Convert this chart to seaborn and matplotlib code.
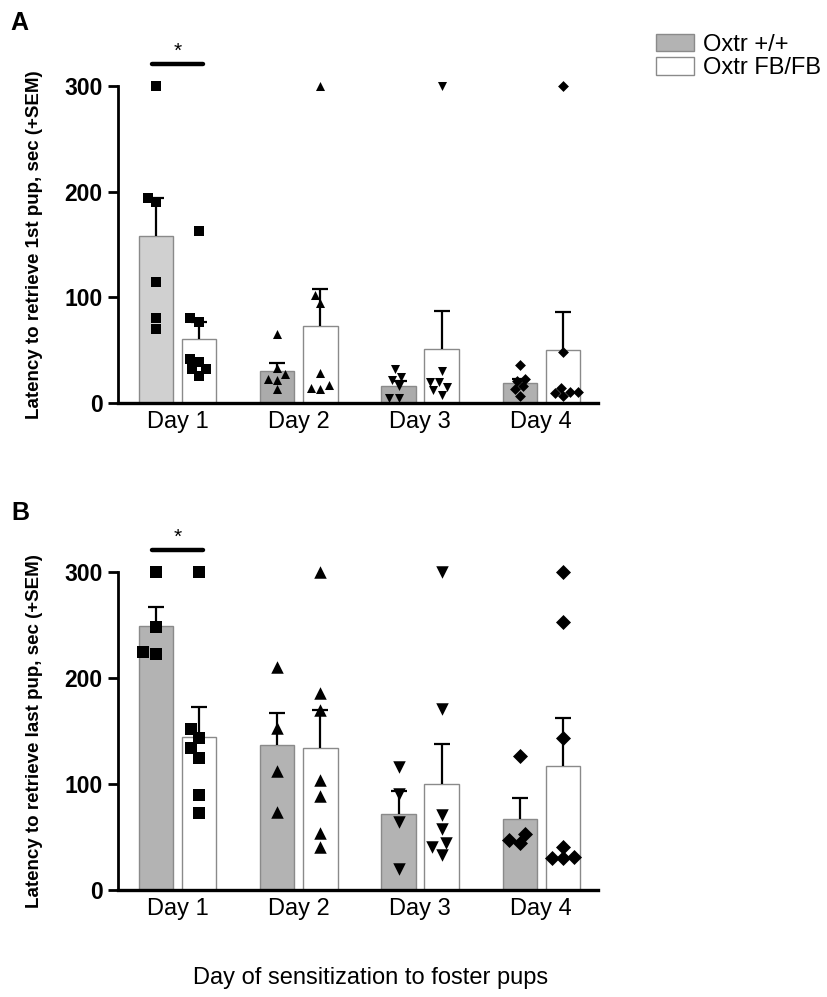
import numpy as np
import pandas as pd
import matplotlib
matplotlib.use('Agg')
import matplotlib.pyplot as plt
from matplotlib.patches import Patch
import seaborn as sns

sns.set_style('ticks')
plt.rcParams['font.family'] = ['Liberation Sans', 'DejaVu Sans']
plt.rcParams['text.color'] = 'black'
plt.rcParams['axes.labelcolor'] = 'black'
plt.rcParams['axes.edgecolor'] = 'black'
plt.rcParams['xtick.color'] = 'black'
plt.rcParams['ytick.color'] = 'black'

days = ['Day 1', 'Day 2', 'Day 3', 'Day 4']
genotypes = ['Oxtr +/+', 'Oxtr FB/FB']
day_markers = ['s', '^', 'v', 'D']

# panel A: latency to retrieve 1st pup
a_wt_mean = [158, 30, 16, 19]
a_wt_sem = [36, 8, 5, 4]
a_ko_mean = [61, 73, 51, 50]
a_ko_sem = [16, 35, 36, 36]
a_wt_points = [
    [300, 194, 190, 114, 80, 70],
    [65, 27, 33, 23, 22, 13],
    [22, 25, 32, 16, 5, 5],
    [36, 21, 23, 16, 13, 7],
]
a_ko_points = [
    [163, 77, 80, 39, 42, 32, 32, 26],
    [300, 102, 95, 28, 13, 17, 14],
    [300, 30, 20, 20, 15, 12, 8],
    [300, 48, 14, 7, 10, 9, 10],
]

# panel B: latency to retrieve last pup
b_wt_mean = [249, 137, 72, 67]
b_wt_sem = [18, 30, 21, 20]
b_ko_mean = [144, 134, 100, 117]
b_ko_sem = [29, 36, 38, 45]
b_wt_points = [
    [300, 248, 223, 225],
    [210, 153, 112, 74],
    [116, 91, 64, 20],
    [126, 53, 44, 47],
]
b_ko_points = [
    [300, 152, 143, 134, 125, 90, 73],
    [300, 186, 170, 104, 89, 54, 41],
    [300, 171, 71, 58, 44, 41, 33],
    [300, 253, 143, 41, 30, 30, 31],
]

OFFSET = 0.1775


def draw_panel(ax, wt_mean, wt_sem, ko_mean, ko_sem, wt_pts, ko_pts, ylabel, msize, wt_colors):
    bars = pd.DataFrame({
        'pos': [i - OFFSET for i in range(4)] + [i + OFFSET for i in range(4)],
        'mean': wt_mean + ko_mean,
        'sem': wt_sem + ko_sem,
        'geno': [genotypes[0]] * 4 + [genotypes[1]] * 4,
    })
    sns.barplot(data=bars, x='pos', y='mean', hue='geno', native_scale=True, orient='x',
                dodge=False, width=0.8, palette=['#b3b3b3', 'white'], edgecolor='#8a8a8a',
                linewidth=1, errorbar=None, legend=False, ax=ax)
    # individual WT bar shades
    wt_patches = sorted([p for p in ax.patches if p.get_facecolor()[0] < 0.95],
                        key=lambda p: p.get_x())
    for p, c in zip(wt_patches, wt_colors):
        p.set_facecolor(c)

    # +SEM only, no cap at the bar top
    eb = ax.errorbar(bars['pos'], bars['mean'], yerr=[np.zeros(8), bars['sem']], fmt='none',
                     ecolor='black', elinewidth=1.6, capsize=6, capthick=1.6, zorder=3)
    eb[1][0].set_visible(False)

    rows = []
    for i in range(4):
        for v in wt_pts[i]:
            rows.append((i, i - OFFSET, v))
        for v in ko_pts[i]:
            rows.append((i, i + OFFSET, v))
    pts = pd.DataFrame(rows, columns=['day', 'pos', 'value'])
    for i in range(4):
        m = day_markers[i]
        sns.swarmplot(data=pts[pts['day'] == i], x='pos', y='value', native_scale=True,
                      orient='x', color='black', marker=m,
                      size=msize * (0.85 if m == 'D' else 1.0), linewidth=0,
                      ax=ax, zorder=4, clip_on=False)

    # significance bar on day 1
    ax.plot([-0.21, 0.21], [321, 321], color='black', lw=3.2, solid_capstyle='round', clip_on=False)
    ax.text(0, 333, '*', ha='center', va='center', fontsize=15)

    ax.set_xlim(-0.49, 3.467)
    ax.set_ylim(0, 345)
    ax.set_yticks([0, 100, 200, 300])
    ax.set_xticks(range(4), days)
    ax.spines['top'].set_visible(False)
    ax.spines['right'].set_visible(False)
    ax.spines['left'].set_bounds(0, 300)
    ax.spines['left'].set_linewidth(2)
    ax.spines['bottom'].set_linewidth(2.4)
    ax.tick_params(axis='y', length=7, width=2, labelsize=16.5, pad=4)
    ax.tick_params(axis='x', length=0, labelsize=17, pad=6)
    for lab in ax.get_yticklabels():
        lab.set_fontweight('bold')
    ax.set_xlabel('')
    ax.set_ylabel(ylabel, fontsize=13.5, fontweight='bold')
    ax.yaxis.set_label_coords(-0.156, 150 / 345)


fig = plt.figure(figsize=(8.27, 9.97), dpi=100)
ax_a = fig.add_axes([0.1427, 0.5958, 0.5804, 0.3658])
ax_b = fig.add_axes([0.1427, 0.1073, 0.5804, 0.3668])

draw_panel(ax_a, a_wt_mean, a_wt_sem, a_ko_mean, a_ko_sem, a_wt_points, a_ko_points,
           'Latency to retrieve 1st pup, sec (+SEM)', 6.5,
           ['#d0d0d0', '#ababab', '#ababab', '#b0b0b0'])
draw_panel(ax_b, b_wt_mean, b_wt_sem, b_ko_mean, b_ko_sem, b_wt_points, b_ko_points,
           'Latency to retrieve last pup, sec (+SEM)', 9,
           ['#b3b3b3', '#b3b3b3', '#b3b3b3', '#b3b3b3'])

fig.text(10 / 827, 1 - 23 / 997, 'A', fontsize=18, fontweight='bold', va='center', ha='left')
fig.text(11 / 827, 1 - 513 / 997, 'B', fontsize=18, fontweight='bold', va='center', ha='left')
fig.text(371 / 827, 1 - 978 / 997, 'Day of sensitization to foster pups', fontsize=17,
         ha='center', va='center')

handles = [Patch(facecolor='#b3b3b3', edgecolor='#8a8a8a', linewidth=1),
           Patch(facecolor='white', edgecolor='#8a8a8a', linewidth=1)]
fig.legend(handles, genotypes, loc='upper left', bbox_to_anchor=(656 / 827, 1 - 34 / 997),
           frameon=False, fontsize=17, handlelength=1.6, handleheight=0.76,
           handletextpad=0.38, labelspacing=0.05, borderpad=0, borderaxespad=0)

fig.savefig('out.png', dpi=100)
